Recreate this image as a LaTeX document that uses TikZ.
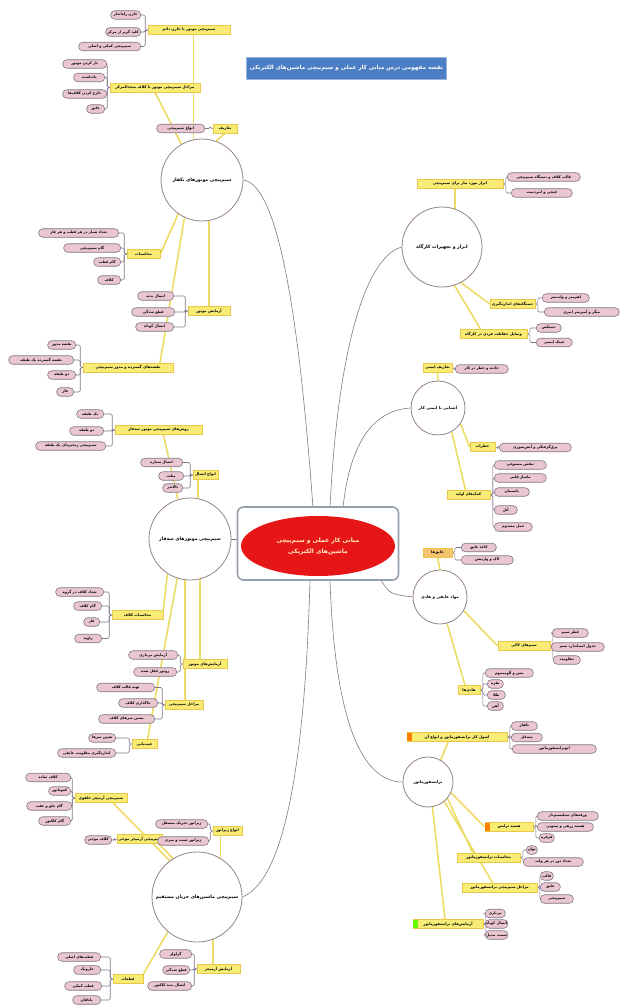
\documentclass[tikz,border=0pt]{standalone}
\usepackage{fontspec}
\newfontfamily\farsifont[Script=Arabic]{DejaVu Sans}
\TeXXeTstate=1
\usetikzlibrary{backgrounds,calc,shapes.geometric}
\definecolor{ybF}{RGB}{248,236,118}
\definecolor{ybD}{RGB}{232,200,70}
\definecolor{obF}{RGB}{246,196,110}
\definecolor{kF}{RGB}{234,198,208}
\definecolor{kD}{RGB}{128,118,138}
\definecolor{cD}{RGB}{150,132,132}
\definecolor{yL}{RGB}{236,220,100}
\definecolor{gC}{RGB}{135,120,120}
\definecolor{tF}{RGB}{76,126,196}
\definecolor{tD}{RGB}{150,180,225}
\definecolor{cRed}{RGB}{230,22,22}
\definecolor{cTxt}{RGB}{255,242,200}
\definecolor{ctrD}{RGB}{150,160,170}
\tikzset{
  ybox/.style={draw=ybD, fill=ybF, line width=0.6pt, minimum height=9pt, inner sep=0.8pt,
    font=\farsifont\bfseries\fontsize{3.7}{4}\selectfont},
  kid/.style={draw=kD, fill=kF, line width=0.6pt, rounded corners=4pt, minimum height=8.5pt, inner sep=0.8pt,
    font=\farsifont\bfseries\fontsize{3.6}{4}\selectfont},
  topic/.style={circle, draw=cD, fill=white, line width=0.8pt, inner sep=0pt,
    font=\farsifont\bfseries\fontsize{4.6}{5}\selectfont},
  yl/.style={draw=yL, line width=1.6pt},
  brk/.style={draw=kD, line width=0.6pt, rounded corners=1.5pt},
  curvelink/.style={draw=gC, line width=0.6pt},
}
\newcommand\YB[5]{\node[ybox,minimum width=#4pt] (#1) at (#2,#3) {#5};}
\newcommand\KL[5]{\node[kid,minimum width=#4pt,anchor=east] (#1) at (#2,#3) {#5};}
\newcommand\KR[5]{\node[kid,minimum width=#4pt,anchor=west] (#1) at (#2,#3) {#5};}
\newcommand\BL[2]{\draw[brk] (#1.west) -- ++(-2.5,0) |- (#2.east);}
\newcommand\BR[2]{\draw[brk] (#1.east) -- ++(2.5,0) |- (#2.west);}
\begin{document}
\begin{tikzpicture}[x=1pt,y=-1pt]
\useasboundingbox (0,0) rectangle (633,1008);

% title
\node[draw=tD, fill=tF, line width=1pt, minimum width=197pt, minimum height=22pt, text=white,
  font=\farsifont\bfseries\fontsize{5.6}{6}\selectfont] (title) at (346.5,68.5)
  {\beginR نقشه مفهومی درس مبانی کار عملی و سیم‌پیچی ماشین‌های الکتریکی\endR};

% centre
\node[draw=ctrD, line width=1.6pt, rounded corners=6pt, fill=white, minimum width=161pt, minimum height=73pt] (ctr) at (318,543.5) {};
\node[ellipse, fill=cRed, minimum width=154pt, minimum height=60pt, inner sep=0pt, align=center, text=cTxt,
  font=\farsifont\bfseries\fontsize{6}{11}\selectfont] (core) at (318,546)
  {\beginR مبانی کار عملی و سیم‌پیچی\endR\\\beginR ماشین‌های الکتریکی\endR};

% topic circles
\node[topic, minimum size=82pt] (c1) at (202,180) {\beginR سیم‌پیچی موتورهای تکفاز\endR};
\node[topic, minimum size=82pt] (c2) at (190,539) {\beginR سیم‌پیچی موتورهای سه‌فاز\endR};
\node[topic, minimum size=90pt] (c3) at (197,897) {\beginR سیم‌پیچی ماشین‌های جریان مستقیم\endR};
\node[topic, minimum size=80pt] (c4) at (442,247) {\beginR ابزار و تجهیزات کارگاه\endR};
\node[topic, minimum size=54pt, font=\farsifont\bfseries\fontsize{4}{5}\selectfont] (c5) at (438,408) {\beginR آشنایی با ایمنی کار\endR};
\node[topic, minimum size=54pt, font=\farsifont\bfseries\fontsize{4}{5}\selectfont] (c6) at (440,597) {\beginR مواد عایقی و هادی\endR};
\node[topic, minimum size=50pt, font=\farsifont\bfseries\fontsize{4}{5}\selectfont] (c7) at (428,782) {\beginR ترانسفورماتور\endR};

% ---- group c1
\YB{y1a}{225}{128.5}{24}{\beginR تعاریف\endR}
\KL{e1}{205}{128.5}{48}{\beginR انواع سیم‌پیچی\endR}
\YB{y1b}{189}{30}{82}{\beginR سیم‌پیچی موتور با خازن دائم\endR}
\KL{y1b1}{141}{15}{30}{\beginR خازن راه‌انداز\endR}
\KL{y1b2}{141}{32}{35}{\beginR کلید گریز از مرکز\endR}
\KL{y1b3}{141}{46.5}{62}{\beginR سیم‌پیچی کمکی و اصلی\endR}
\YB{y1c}{155}{87.5}{90}{\beginR مراحل سیم‌پیچی موتور با کلاف متحدالمرکز\endR}
\KL{y1c1}{107}{64}{44}{\beginR باز کردن موتور\endR}
\KL{y1c2}{105}{77.5}{31}{\beginR یادداشت\endR}
\KL{y1c3}{107}{94}{44}{\beginR خارج کردن کلاف‌ها\endR}
\KL{y1c4}{105}{109}{18}{\beginR عایق\endR}
\YB{y1d}{143.5}{254}{33}{\beginR محاسبات\endR}
\KL{y1d1}{119}{233}{80}{\beginR تعداد شیار در هر قطب و هر فاز\endR}
\KL{y1d2}{121}{248}{57}{\beginR گام سیم‌پیچی\endR}
\KL{y1d3}{121}{262}{27}{\beginR گام قطب\endR}
\KL{y1d4}{121}{280}{23}{\beginR کلاف\endR}
\YB{y1e}{209}{311}{42}{\beginR آزمایش موتور\endR}
\KL{y1e1}{174}{296}{36}{\beginR اتصال بدنه\endR}
\KL{y1e2}{175}{312}{43}{\beginR قطع شدگی\endR}
\KL{y1e3}{174}{327}{38}{\beginR اتصال کوتاه\endR}
\YB{y1f}{128}{367.5}{90}{\beginR نقشه‌های گسترده و مدور سیم‌پیچی\endR}
\KL{y1f1}{76}{345}{28}{\beginR نقشه مدور\endR}
\KL{y1f2}{74}{360}{65}{\beginR نقشه گسترده یک طبقه\endR}
\KL{y1f3}{76}{375}{28}{\beginR دو طبقه\endR}
\KL{y1f4}{74}{392}{17}{\beginR فاز\endR}

% ---- group c2
\YB{y2a}{158.5}{430}{87}{\beginR روش‌های سیم‌پیچی موتور سه‌فاز\endR}
\KL{y2a1}{104}{414}{27}{\beginR یک طبقه\endR}
\KL{y2a2}{104}{431}{34}{\beginR دو طبقه\endR}
\KL{y2a3}{106}{446}{70}{\beginR سیم‌پیچی زنجیره‌ای یک طبقه\endR}
\YB{y2b}{205.5}{475}{25}{\beginR انواع اتصال\endR}
\KL{y2b1}{183}{462.5}{42}{\beginR اتصال ستاره\endR}
\KL{y2b2}{184}{476}{25}{\beginR مثلث\endR}
\KL{y2b3}{183}{488}{20}{\beginR دالاندر\endR}
\YB{y2c}{137.5}{615}{51}{\beginR محاسبات کلاف\endR}
\KL{y2c1}{104}{592}{48}{\beginR تعداد کلاف در گروه\endR}
\KL{y2c2}{102}{606}{28}{\beginR گام کلاف\endR}
\KL{y2c3}{100}{622}{16}{\beginR فاز\endR}
\KL{y2c4}{102}{638.5}{27}{\beginR زاویه\endR}
\YB{y2d}{205}{664}{44}{\beginR آزمایش‌های موتور\endR}
\KL{y2d1}{178}{655}{49}{\beginR آزمایش بی‌باری\endR}
\KL{y2d2}{177}{672}{43}{\beginR روتور قفل شده\endR}
\YB{y2e}{184}{705}{38}{\beginR مراحل سیم‌پیچی\endR}
\KL{y2e1}{155}{687.5}{58}{\beginR تهیه قالب کلاف\endR}
\KL{y2e2}{158}{703}{39}{\beginR جاگذاری کلاف\endR}
\KL{y2e3}{155}{719}{56}{\beginR بستن سرهای کلاف\endR}
\YB{y2f}{144.5}{744}{25}{\beginR عیب‌یابی\endR}
\KL{y2f1}{116}{738}{27}{\beginR تعیین سرها\endR}
\KL{y2f2}{116}{753}{58}{\beginR اندازه‌گیری مقاومت عایقی\endR}

% ---- group c3
\YB{y3a}{101}{798}{52}{\beginR سیم‌پیچی آرمیچر حلقوی\endR}
\KL{y3a1}{71}{777.5}{45}{\beginR کلاف ساده\endR}
\KL{y3a2}{71}{791}{22}{\beginR کموتاتور\endR}
\KL{y3a3}{72}{806}{45}{\beginR گام جلو و عقب\endR}
\KL{y3a4}{71}{821}{32}{\beginR گام کلکتور\endR}
\YB{y3b}{140}{839}{44}{\beginR سیم‌پیچی آرمیچر موجی\endR}
\KL{y3b1}{112}{840}{27}{\beginR کلاف موجی\endR}
\YB{y3c}{227.5}{831}{29}{\beginR انواع ژنراتور\endR}
\KL{y3c1}{208}{824}{52}{\beginR ژنراتور تحریک مستقل\endR}
\KL{y3c2}{209}{841}{51}{\beginR ژنراتور شنت و سری\endR}
\YB{y3d}{218.5}{969}{43}{\beginR آزمایش آرمیچر\endR}
\KL{y3d1}{192}{954}{32}{\beginR گراولر\endR}
\KL{y3d2}{190}{970}{27}{\beginR قطع شدگی\endR}
\KL{y3d3}{192}{986}{44}{\beginR اتصال بدنه کلکتور\endR}
\YB{y3e}{128}{979}{30}{\beginR قطعات\endR}
\KL{y3e1}{101}{957}{43}{\beginR قطب‌های اصلی\endR}
\KL{y3e2}{101}{970}{27}{\beginR جاروبک\endR}
\KL{y3e3}{102}{986}{37}{\beginR قطب کمکی\endR}
\KL{y3e4}{101}{1000}{28}{\beginR یاتاقان\endR}

% ---- group c4
\YB{y4a}{460}{184}{86}{\beginR ابزار مورد نیاز برای سیم‌پیچی\endR}
\KR{y4a1}{507}{177}{73}{\beginR قالب کلاف و دستگاه سیم‌پیچی\endR}
\KR{y4a2}{511}{193}{61}{\beginR قیچی و انبردست\endR}
\YB{y4b}{512.5}{304}{45}{\beginR دستگاه‌های اندازه‌گیری\endR}
\KR{y4b1}{542}{298}{47}{\beginR اهم‌متر و ولت‌متر\endR}
\KR{y4b2}{544}{312}{75}{\beginR میگر و آمپرمتر انبری\endR}
\YB{y4c}{493.5}{334}{67}{\beginR وسایل حفاظت فردی در کارگاه\endR}
\KR{y4c1}{536}{328}{25}{\beginR دستکش\endR}
\KR{y4c2}{536}{342.5}{36}{\beginR عینک ایمنی\endR}

% ---- group c5
\YB{y5a}{437.5}{368}{29}{\beginR تعاریف ایمنی\endR}
\KR{y5a1}{455}{369}{53}{\beginR حادثه و خطر در کار\endR}
\YB{y5b}{482.5}{447}{25}{\beginR خطرات\endR}
\KR{y5b1}{499}{447.5}{72}{\beginR برق‌گرفتگی و آتش‌سوزی\endR}
\YB{y5c}{468.5}{495}{43}{\beginR کمک‌های اولیه\endR}
\KR{y5c1}{494}{465}{52}{\beginR تنفس مصنوعی\endR}
\KR{y5c2}{494}{478}{52}{\beginR ماساژ قلبی\endR}
\KR{y5c3}{494}{492}{35}{\beginR پانسمان\endR}
\KR{y5c4}{494}{510}{23}{\beginR آتل\endR}
\KR{y5c5}{494}{527}{38}{\beginR حمل مصدوم\endR}

% ---- group c6
\node[ybox, fill=obF, minimum width=29pt] (y6a) at (437.5,552.5) {\beginR عایق‌ها\endR};
\KR{y6a1}{461}{547.5}{35}{\beginR کاغذ عایق\endR}
\KR{y6a2}{461}{560}{52}{\beginR لاک و وارنیش\endR}
\YB{y6b}{524}{646}{52}{\beginR سیم‌های لاکی\endR}
\KR{y6b1}{552}{633}{36}{\beginR قطر سیم\endR}
\KR{y6b2}{551}{647}{53}{\beginR جدول استاندارد سیم\endR}
\KR{y6b3}{553}{660}{27}{\beginR مقاومت\endR}
\YB{y6c}{469}{690}{22}{\beginR هادی‌ها\endR}
\KR{y6c1}{485}{673}{48}{\beginR مس و آلومینیوم\endR}
\KR{y6c2}{487}{684}{16}{\beginR نقره\endR}
\KR{y6c3}{487}{695}{18}{\beginR طلا\endR}
\KR{y6c4}{487}{706}{16}{\beginR آهن\endR}

% ---- group c7
\YB{y7a}{457}{737}{100}{\beginR اصول کار ترانسفورماتور و انواع آن\endR}
\KR{y7a1}{511}{726}{26}{\beginR تکفاز\endR}
\KR{y7a2}{511}{737.5}{31}{\beginR سه‌فاز\endR}
\KR{y7a3}{512}{749}{84}{\beginR اتوترانسفورماتور\endR}
\YB{y7b}{509}{827}{48}{\beginR هسته ترانس\endR}
\KR{y7b1}{537}{816}{61}{\beginR ورقه‌های سیلیسیم‌دار\endR}
\KR{y7b2}{537}{827}{56}{\beginR هسته زرهی و ستونی\endR}
\KR{y7b3}{539}{838}{15}{\beginR قرقره\endR}
\YB{y7c}{488.5}{857.5}{63}{\beginR محاسبات ترانسفورماتور\endR}
\KR{y7c1}{526}{850}{11}{\beginR توان\endR}
\KR{y7c2}{523}{862}{60}{\beginR تعداد دور در هر ولت\endR}
\YB{y7d}{499.5}{887.5}{75}{\beginR مراحل سیم‌پیچی ترانسفورماتور\endR}
\KR{y7d1}{540}{876}{13}{\beginR قالب\endR}
\KR{y7d2}{540}{887}{20}{\beginR عایق\endR}
\KR{y7d3}{540}{899}{33}{\beginR سیم‌پیچی\endR}
\YB{y7e}{448}{924}{70}{\beginR آزمایش‌های ترانسفورماتور\endR}
\KR{y7e1}{485}{913.5}{20}{\beginR بی‌باری\endR}
\KR{y7e2}{485}{924}{20}{\beginR اتصال کوتاه\endR}
\KR{y7e3}{485}{935}{20}{\beginR نسبت تبدیل\endR}

% small colour marks on some boxes
\fill[orange] (y7a.west) ++(0.5,-4) rectangle ++(5,8);
\fill[orange] (y7b.west) ++(0.5,-4) rectangle ++(5,8);
\fill[green!60!yellow] (y7e.west) ++(0.5,-4) rectangle ++(5,8);

\begin{pgfonlayer}{background}
\fill[white] (0,0) rectangle (633,1008);
% curves from centre
\draw[curvelink] (313,508) .. controls (300,330) and (280,185) .. (c1.east);
\draw[curvelink] (330,508) .. controls (337,360) and (363,258) .. (c4.west);
\draw[curvelink] (343,508) .. controls (350,440) and (375,410) .. (c5.west);
\draw[curvelink] ($(ctr.south east)+(-18,0)$) .. controls (390,594) .. (c6.west);
\draw[curvelink] (330,580) .. controls (335,730) and (365,782) .. (c7.west);
\draw[curvelink] (310,580) .. controls (305,760) and (285,880) .. (c3.east);
\draw[curvelink] (c2.east) -- (c2.east -| ctr.west);

% yellow links
\draw[yl] (c1.70) -- (y1a.south);
\draw[yl] (c1.102) -- (c1.102 |- y1b.south);
\draw[yl] (c1.120) -- (y1c.south);
\draw[yl] (c1.235) -- (y1d.east);
\draw[yl] (c1.-80) -- (c1.-80 |- y1e.north);
\draw[yl] (c1.-115) -- ($(y1f.north)+(32,0)$);

\draw[yl] (c2.107) -- ($(y2a.south)+(5,0)$);
\draw[yl] (c2.79) -- (c2.79 |- y2b.south);
\draw[yl] (c2.-123) -- (y2c.north east);
\draw[yl] (c2.-76) -- (c2.-76 |- y2d.north);
\draw[yl] (c2.-97) -- (c2.-97 |- y2e.north);
\draw[yl] (c2.-108) -- ($(y2f.north)+(3,0)$);

\draw[yl] (c3.127) -- ($(y3a.south)+(12,0)$);
\draw[yl] (c3.122) -- ($(y3b.south east)+(-4,0)$);
\draw[yl] (c3.59) -- (c3.59 |- y3c.south);
\draw[yl] (c3.-69) -- (c3.-69 |- y3d.north);
\draw[yl] (c3.-130) -- (y3e.north east);

\draw[yl] (c4.71) -- (c4.71 |- y4a.south);
\draw[yl] (c4.-62) -- (y4b.west);
\draw[yl] (c4.-72) -- ($(y4c.north)+(-13,0)$);

\draw[yl] (c5.north) -- (y5a.south);
\draw[yl] (c5.-35) -- (y5b.west);
\draw[yl] (c5.-60) -- ($(y5c.north)+(-3,0)$);

\draw[yl] (c6.north) -- (y6a.south);
\draw[yl] (c6.-30) -- (y6b.west);
\draw[yl] (c6.-75) -- ($(y6c.north)+(-4,0)$);

\draw[yl] (c7.60) -- ($(y7a.south)+(-9,0)$);
\draw[yl] (c7.-25) -- (y7b.west);
\draw[yl] (c7.-40) -- ($(y7c.north west)+(16,0)$);
\draw[yl] (c7.-50) -- ($(y7d.north)+(-7,0)$);
\draw[yl] (c7.-80) -- ($(y7e.north)+(-3,0)$);

% brackets to leaf items
\BL{y1a}{e1}
\BL{y1b}{y1b1}\BL{y1b}{y1b2}\BL{y1b}{y1b3}
\BL{y1c}{y1c1}\BL{y1c}{y1c2}\BL{y1c}{y1c3}\BL{y1c}{y1c4}
\BL{y1d}{y1d1}\BL{y1d}{y1d2}\BL{y1d}{y1d3}\BL{y1d}{y1d4}
\BL{y1e}{y1e1}\BL{y1e}{y1e2}\BL{y1e}{y1e3}
\BL{y1f}{y1f1}\BL{y1f}{y1f2}\BL{y1f}{y1f3}\BL{y1f}{y1f4}
\BL{y2a}{y2a1}\BL{y2a}{y2a2}\BL{y2a}{y2a3}
\BL{y2b}{y2b1}\BL{y2b}{y2b2}\BL{y2b}{y2b3}
\BL{y2c}{y2c1}\BL{y2c}{y2c2}\BL{y2c}{y2c3}\BL{y2c}{y2c4}
\BL{y2d}{y2d1}\BL{y2d}{y2d2}
\BL{y2e}{y2e1}\BL{y2e}{y2e2}\BL{y2e}{y2e3}
\BL{y2f}{y2f1}\BL{y2f}{y2f2}
\BL{y3a}{y3a1}\BL{y3a}{y3a2}\BL{y3a}{y3a3}\BL{y3a}{y3a4}
\BL{y3b}{y3b1}
\BL{y3c}{y3c1}\BL{y3c}{y3c2}
\BL{y3d}{y3d1}\BL{y3d}{y3d2}\BL{y3d}{y3d3}
\BL{y3e}{y3e1}\BL{y3e}{y3e2}\BL{y3e}{y3e3}\BL{y3e}{y3e4}
\BR{y4a}{y4a1}\BR{y4a}{y4a2}
\BR{y4b}{y4b1}\BR{y4b}{y4b2}
\BR{y4c}{y4c1}\BR{y4c}{y4c2}
\BR{y5a}{y5a1}
\BR{y5b}{y5b1}
\BR{y5c}{y5c1}\BR{y5c}{y5c2}\BR{y5c}{y5c3}\BR{y5c}{y5c4}\BR{y5c}{y5c5}
\BR{y6a}{y6a1}\BR{y6a}{y6a2}
\BR{y6b}{y6b1}\BR{y6b}{y6b2}\BR{y6b}{y6b3}
\BR{y6c}{y6c1}\BR{y6c}{y6c2}\BR{y6c}{y6c3}\BR{y6c}{y6c4}
\BR{y7a}{y7a1}\BR{y7a}{y7a2}\BR{y7a}{y7a3}
\BR{y7b}{y7b1}\BR{y7b}{y7b2}\BR{y7b}{y7b3}
\BR{y7c}{y7c1}\BR{y7c}{y7c2}
\BR{y7d}{y7d1}\BR{y7d}{y7d2}\BR{y7d}{y7d3}
\BR{y7e}{y7e1}\BR{y7e}{y7e2}\BR{y7e}{y7e3}
\end{pgfonlayer}
\end{tikzpicture}
\end{document}
